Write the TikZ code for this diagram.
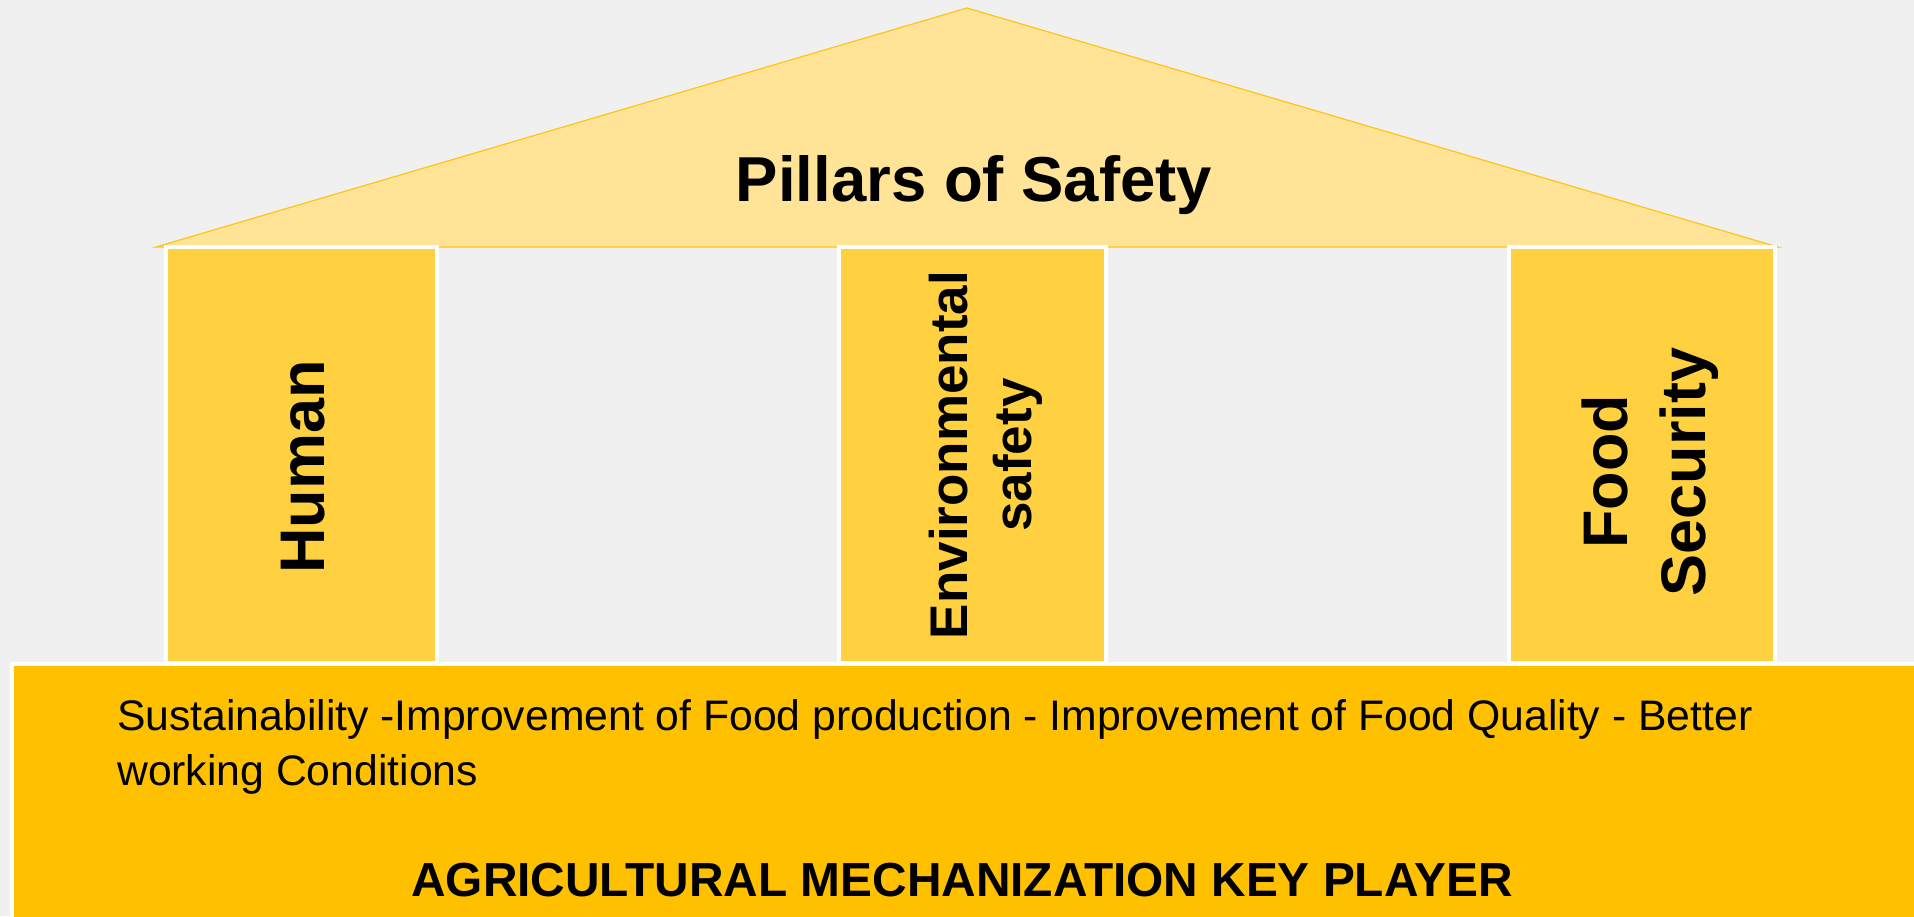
\documentclass[tikz,border=0pt]{standalone}
\usepackage{fontspec}
\setmainfont{Liberation Sans}
\definecolor{bgc}{RGB}{240,240,241}
\definecolor{roofc}{RGB}{255,228,152}
\definecolor{roofline}{RGB}{255,196,20}
\definecolor{pillarc}{RGB}{255,209,64}
\definecolor{basec}{RGB}{255,192,0}
\tikzset{
  pillar/.style={draw=white, line width=4pt, fill=pillarc},
  pillartext/.style={rotate=90, inner sep=0pt, align=center, font=\bfseries},
}
\begin{document}
\begin{tikzpicture}[x=1pt,y=1pt]
\useasboundingbox (0,0) rectangle (1914,916);
\fill[bgc] (0,0) rectangle (1914,916);
% roof
\filldraw[fill=roofc, draw=roofline, line width=1.2pt, line join=miter]
  (156,669) -- (967,908) -- (1778,669) -- cycle;
\node[anchor=base, inner sep=0pt, font=\fontsize{63.5}{76}\selectfont\bfseries] (title) at (974,714) {Pillars of Safety};
% pillars
\draw[pillar] (166,669) rectangle (437,253);
\draw[pillar] (839,669) rectangle (1106,253);
\draw[pillar] (1509,669) rectangle (1775,253);
\node[pillartext, font=\fontsize{63}{76}\selectfont\bfseries] (human) at (303,449) {Human};
\node[pillartext, font=\fontsize{53}{64}\selectfont\bfseries] (env) at (986,461) {Environmental\\safety};
\node[pillartext, font=\fontsize{63}{78}\selectfont\bfseries] (food) at (1650,444) {Food\\Security};
% base
\draw[draw=white, line width=4pt, fill=basec] (12,252) rectangle (1940,-20);
\node[anchor=north west, inner sep=0pt, align=left, font=\fontsize{42.7}{55}\selectfont] (desc) at (117,217)
  {Sustainability -Improvement of Food production - Improvement of Food Quality - Better\\working Conditions};
\node[anchor=base, inner sep=0pt, font=\fontsize{47.8}{57}\selectfont\bfseries] (key) at (962,20) {AGRICULTURAL MECHANIZATION KEY PLAYER};
\end{tikzpicture}
\end{document}
